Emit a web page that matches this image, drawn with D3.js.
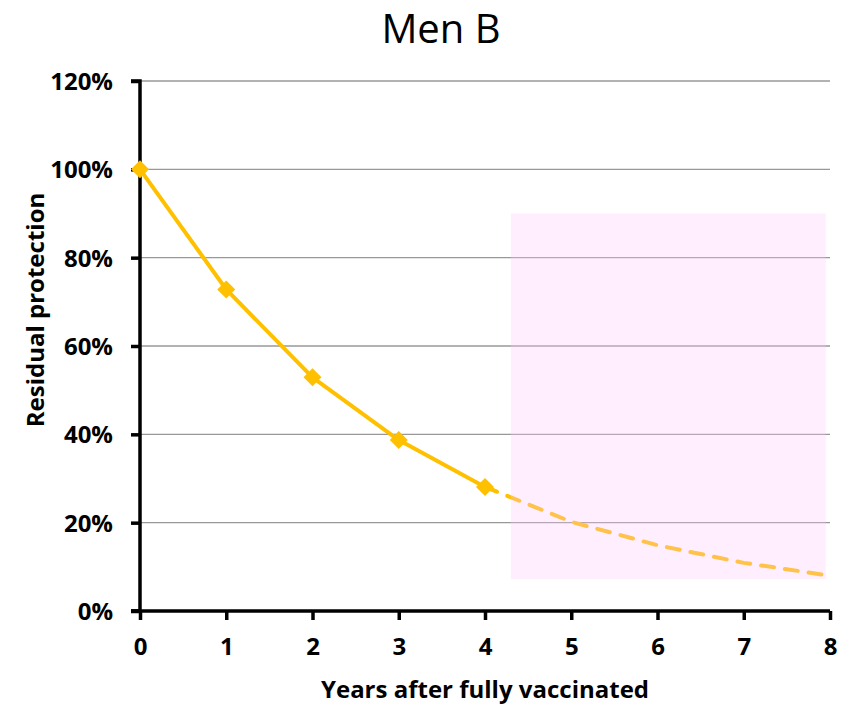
<!DOCTYPE html>
<html><head><meta charset="utf-8">
<script src="https://cdn.jsdelivr.net/npm/d3@7"></script>
<style>body{margin:0;background:#fff}svg{display:block}</style>
</head><body>
<script>
const title = "Men B";
const xLabel = "Years after fully vaccinated";
const yLabel = "Residual protection";
const xTicks = [0,1,2,3,4,5,6,7,8];
const yTicks = [0,20,40,60,80,100,120];
const observedYears = [0,1,2,3,4];
const observedValues = [100,72.8,52.9,38.7,28.1];
const projectedYears = [4,5,6,7,8];
const projectedValues = [28.1,20.2,14.9,10.9,8.0];
const shadeX = [4.3, 7.95];
const shadeY = [7.2, 90];

const W = 858, H = 707;
const svg = d3.select("body").append("svg").attr("width", W).attr("height", H);
const x = d3.scaleLinear().domain([0,8]).range([140,830]);
const y = d3.scaleLinear().domain([0,120]).range([611,81]);
const font = "'Open Sans', Lato, sans-serif";

// gridlines
svg.append("g").selectAll("line").data(yTicks.filter(d=>d>0)).join("line")
  .attr("x1", x(0)).attr("x2", x(8))
  .attr("y1", d=>y(d)).attr("y2", d=>y(d))
  .attr("stroke", "#989898").attr("stroke-width", 1.3);

const obs = observedYears.map((d,i)=>[d, observedValues[i]]);
const proj = projectedYears.map((d,i)=>[d, projectedValues[i]]);
const line = d3.line().x(d=>x(d[0])).y(d=>y(d[1]));

// projected dashed
svg.append("path").attr("d", line(proj)).attr("fill","none")
  .attr("stroke","#FFC000").attr("stroke-width",4)
  .attr("stroke-dasharray","13,11").attr("stroke-linecap","round");

// axes
const yAxis = d3.axisLeft(y).tickValues(yTicks).tickSize(9).tickFormat(d=>d+"%");
const gy = svg.append("g").attr("transform", `translate(${x(0)},0)`).call(yAxis);
const xAxis = d3.axisBottom(x).tickValues(xTicks).tickSize(9).tickFormat(d=>d);
const gx = svg.append("g").attr("transform", `translate(0,${y(0)})`).call(xAxis);
[gx, gy].forEach(g=>{
  g.select(".domain").attr("stroke","#000").attr("stroke-width",3.5);
  g.selectAll(".tick line").attr("stroke","#000").attr("stroke-width",3.5);
  g.selectAll(".tick text").attr("fill","#000").style("font-family",font)
    .style("font-weight","bold").style("font-size","24px");
});
gy.select(".domain").attr("d", `M-9,${y(120)}H0V${y(0)}H-9`);
gx.select(".domain").attr("d", `M${x(0)-9},0H${x(8)}`);
gy.selectAll(".tick text").attr("x",-27).attr("dy","0.36em");
gx.selectAll(".tick text").attr("y",27).attr("dy","0.71em");

// observed solid line
svg.append("path").attr("d", line(obs.concat([[4.14, 28.1-1.1]]))).attr("fill","none")
  .attr("stroke","#FFC000").attr("stroke-width",4).attr("stroke-linejoin","round");

// markers
const s = 9;
svg.append("g").selectAll("path").data(obs).join("path")
  .attr("transform", d=>`translate(${x(d[0])},${y(d[1])})`)
  .attr("d", `M0,${-s}L${s},0L0,${s}L${-s},0Z`)
  .attr("fill","#FFC000");

// shaded region
svg.append("rect")
  .attr("x", x(shadeX[0])).attr("width", x(shadeX[1])-x(shadeX[0]))
  .attr("y", y(shadeY[1])).attr("height", y(shadeY[0])-y(shadeY[1]))
  .attr("fill","rgb(255,198,247)").attr("fill-opacity",0.3);

// titles
svg.append("text").attr("x", 441).attr("y", 43).attr("text-anchor","middle")
  .style("font-family",font).style("font-size","40px").attr("fill","#000").text(title);
svg.append("text").attr("x", x(4)).attr("y", 698).attr("text-anchor","middle")
  .style("font-family",font).style("font-weight","bold").style("font-size","24px").attr("fill","#000").text(xLabel);
svg.append("text").attr("transform","translate(44,310) rotate(-90)").attr("text-anchor","middle")
  .style("font-family",font).style("font-weight","bold").style("font-size","24px").attr("fill","#000").text(yLabel);
</script>
</body></html>
